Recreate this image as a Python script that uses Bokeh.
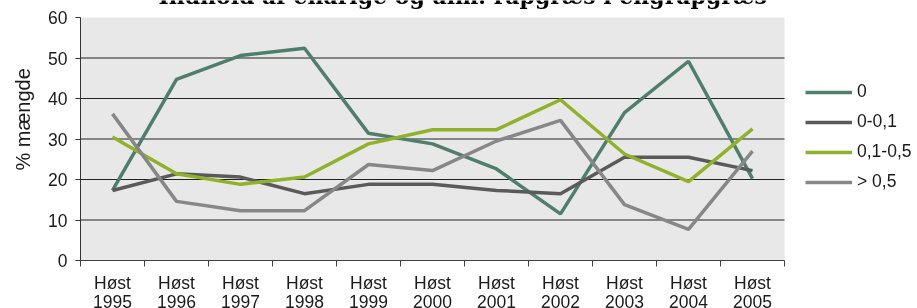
from bokeh.plotting import figure
from bokeh.models import FixedTicker, Legend, LegendItem, Label
from bokeh.embed import file_html
from bokeh.resources import INLINE

# ---- data ----
years = ["1995", "1996", "1997", "1998", "1999", "2000", "2001", "2002", "2003", "2004", "2005"]
tick_labels = ["Høst\n" + y for y in years]
series_names = ["0", "0-0,1", "0,1-0,5", "> 0,5"]
s_0 = [17.3, 44.7, 50.6, 52.4, 31.4, 28.8, 22.6, 11.5, 36.5, 49.2, 20.2]
s_0_01 = [17.3, 21.4, 20.6, 16.5, 18.8, 18.8, 17.3, 16.5, 25.5, 25.5, 22.2]
s_01_05 = [30.5, 21.4, 18.8, 20.6, 28.8, 32.3, 32.3, 39.7, 26.3, 19.5, 32.5]
s_gt_05 = [36.2, 14.6, 12.3, 12.3, 23.7, 22.2, 29.5, 34.6, 13.8, 7.7, 27.0]
y_ticks = [0, 10, 20, 30, 40, 50, 60]
title_text = "Indhold af enårige og alm. rapgræs i engrapgræs"
y_label_text = "% mængde"

series = [s_0, s_0_01, s_01_05, s_gt_05]
colors = ["#4e7e6c", "#5a5a5a", "#8fb22a", "#878787"]

n = len(years)
centers = [i + 0.5 for i in range(n)]
bounds = [float(i) for i in range(n + 1)]
y_min, y_max = y_ticks[0], y_ticks[-1]

FONT = "Liberation Sans"
TXT = "#1a1a1a"

# plot area: 64 px per category, 4.05 px per unit; frame extended right (legend) and up (title)
p = figure(width=917, height=320, x_range=(0, n * 837 / 704), y_range=(y_min, 260 / 4.05),
           output_backend="svg", toolbar_location=None,
           min_border_left=80, min_border_right=0, min_border_top=0, min_border_bottom=60,
           background_fill_color="white", border_fill_color="white",
           outline_line_color=None)
# canvas starts at the window's top-left corner (title is cut at the top like the reference)
p.styles = {"position": "fixed", "top": "0px", "left": "0px"}

# grey plot background and horizontal gridlines, limited to the category span
p.quad(left=[0], right=[n], bottom=[y_min], top=[y_max], fill_color="#e8e8e8",
       line_color=None, level="image")
grid_y = y_ticks[1:-1]
p.segment(x0=[0] * len(grid_y), x1=[n] * len(grid_y), y0=grid_y, y1=grid_y,
          line_color="#222222", line_width=1)

renderers = []
for vals, col in zip(series, colors):
    r = p.line(centers, vals, line_color=col, line_width=3.5)
    renderers.append(r)

# x axis
p.xaxis.bounds = (0, n)
p.xaxis.ticker = FixedTicker(ticks=centers, minor_ticks=bounds)
p.xaxis.major_label_overrides = {c: lab for c, lab in zip(centers, tick_labels)}
p.xaxis.major_tick_out = 0
p.xaxis.major_tick_in = 0
p.xaxis.minor_tick_out = 6
p.xaxis.minor_tick_in = 0
p.xaxis.axis_line_color = "#404040"
p.xaxis.minor_tick_line_color = "#404040"
p.xaxis.major_label_standoff = 6
p.xaxis.major_label_text_font = FONT
p.xaxis.major_label_text_font_size = "17.5px"
p.xaxis.major_label_text_color = TXT
p.xaxis.major_label_text_line_height = 0.95
p.xgrid.visible = False

# y axis
p.yaxis.bounds = (y_min, y_max)
p.yaxis.ticker = FixedTicker(ticks=y_ticks)
p.yaxis.major_tick_out = 5
p.yaxis.major_tick_in = 0
p.yaxis.axis_line_color = "#333333"
p.yaxis.major_tick_line_color = "#333333"
p.yaxis.major_label_standoff = 8
p.yaxis.major_label_text_font = FONT
p.yaxis.major_label_text_font_size = "17.5px"
p.yaxis.major_label_text_color = TXT
p.yaxis.axis_label = "\u00a0" * 4 + y_label_text
p.yaxis.axis_label_text_font = FONT
p.yaxis.axis_label_text_font_size = "20px"
p.yaxis.axis_label_text_font_style = "normal"
p.yaxis.axis_label_text_color = TXT
p.yaxis.axis_label_standoff = 11
p.ygrid.visible = False

# legend (right of the grey plot area)
legend = Legend(items=[LegendItem(label=nm, renderers=[r]) for nm, r in zip(series_names, renderers)],
                location=(725, 68), glyph_width=47, glyph_height=20, label_height=20,
                spacing=9, padding=0, margin=0, border_line_color=None,
                background_fill_alpha=0, label_text_font=FONT, label_text_font_size="17.5px",
                label_text_color=TXT, label_standoff=5)
p.add_layout(legend)

# title
p.add_layout(Label(x=5.97, y=65.2, text=title_text, text_font="DejaVu Serif",
                   text_font_style="bold", text_font_size="22px", text_align="center",
                   text_baseline="alphabetic", text_color="black"))

open("out.html", "w").write(file_html(p, INLINE))
